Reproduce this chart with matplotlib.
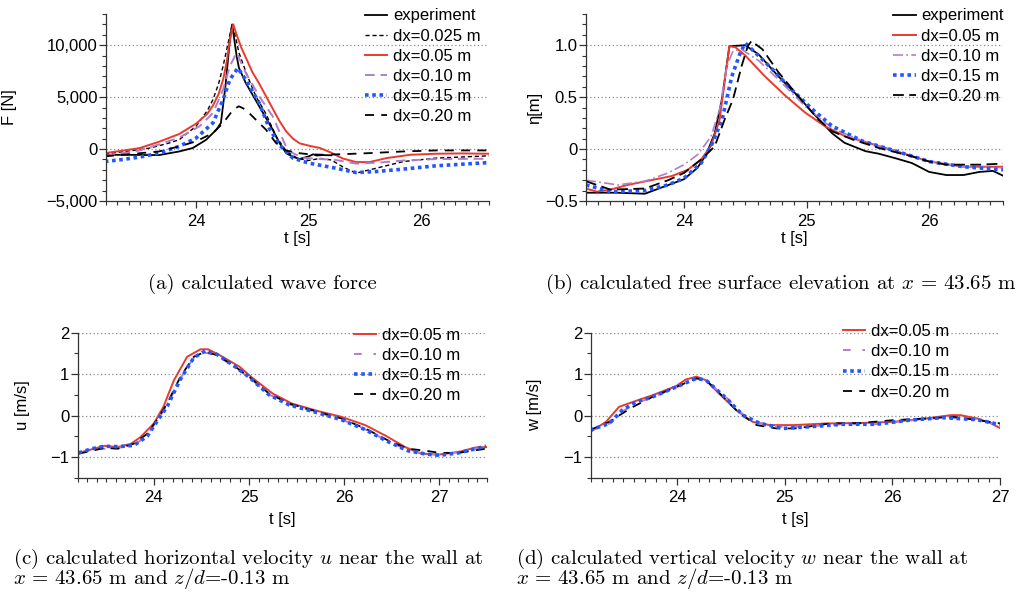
import matplotlib
matplotlib.use("Agg")
import matplotlib.pyplot as plt
from matplotlib.ticker import MultipleLocator, FixedLocator, FuncFormatter

plt.rcParams["font.family"] = ["Liberation Sans", "DejaVu Sans"]
plt.rcParams["mathtext.fontset"] = "cm"

# ---------------- (a) wave force ----------------
t_a_exp = [23.19, 23.45, 23.67, 23.85, 23.97, 24.09, 24.18, 24.22, 24.26, 24.30, 24.32,
           24.36, 24.38, 24.44, 24.56, 24.68, 24.74, 24.80, 24.86, 24.92, 25.00, 25.04,
           25.07, 25.12, 25.20]
f_exp = [-550, -560, -580, -230, 100, 900, 1870, 2510, 6000, 10500, 12000,
         8950, 7830, 6380, 4120, 1870, 580, -390, -750, -950, -700, -500,
         -620, -580, -600]

t_a_025 = [23.19, 23.40, 23.59, 23.75, 23.85, 24.00, 24.10, 24.15, 24.20, 24.24, 24.28,
           24.32, 24.35, 24.38, 24.45, 24.53, 24.62, 24.71, 24.80, 24.90, 25.00, 25.10,
           25.20, 25.30, 25.42, 25.50, 25.60, 25.84, 26.13, 26.60]
f_025 = [-450, -200, 100, 550, 900, 2200, 3700, 4770, 6300, 8000, 10000,
         12000, 10800, 9280, 7200, 5090, 3400, 1220, -200, -900, -1100, -900,
         -1050, -1700, -2320, -2100, -1840, -1200, -870, -650]

t_a_05 = [23.19, 23.35, 23.50, 23.67, 23.85, 24.00, 24.10, 24.15, 24.20, 24.24, 24.27,
          24.30, 24.33, 24.36, 24.40, 24.45, 24.50, 24.56, 24.62, 24.68, 24.74, 24.80,
          24.86, 24.92, 25.00, 25.10, 25.20, 25.30, 25.42, 25.54, 25.69, 25.90, 26.13,
          26.35, 26.60]
f_05 = [-390, -150, 100, 700, 1450, 2450, 3400, 4200, 5300, 6700, 8300,
        10500, 12000, 11000, 9800, 8600, 7400, 6300, 5100, 3900, 2700, 1700,
        1000, 550, 330, 100, -350, -900, -1250, -1250, -870, -550, -450,
        -420, -450]

t_a_10 = [23.19, 23.35, 23.50, 23.67, 23.85, 24.03, 24.15, 24.24, 24.30, 24.36, 24.44,
          24.56, 24.68, 24.80, 24.86, 24.95, 25.10, 25.24, 25.42, 25.63, 25.84, 26.13,
          26.60]
f_10 = [-650, -400, -130, 450, 1100, 2190, 3480, 5730, 7990, 9280, 7350,
        5090, 3150, 200, -400, -850, -950, -1050, -1400, -1300, -1100, -960,
        -930]

t_a_15 = [23.19, 23.35, 23.50, 23.67, 23.85, 24.00, 24.15, 24.24, 24.30, 24.37, 24.44,
          24.56, 24.65, 24.74, 24.80, 24.86, 25.00, 25.24, 25.42, 25.60, 25.84, 26.13,
          26.60]
f_15 = [-1200, -1000, -770, -390, 260, 1060, 2520, 4770, 6700, 7800, 6700,
        4450, 2000, 400, -250, -870, -1350, -1840, -2260, -2160, -1930, -1610,
        -1300]

t_a_20 = [23.19, 23.45, 23.67, 23.85, 24.00, 24.15, 24.24, 24.33, 24.38, 24.44, 24.53,
          24.62, 24.71, 24.80, 24.92, 25.00, 25.13, 25.33, 25.54, 25.84, 26.13, 26.60]
f_20 = [-700, -450, -230, 260, 740, 1550, 2510, 3800, 4120, 3800, 2830,
        1870, 580, -150, -400, -500, -550, -480, -390, -230, -130, -130]

# ---------------- (b) free surface elevation ----------------
t_b_exp = [23.20, 23.45, 23.68, 23.84, 24.00, 24.11, 24.18, 24.25, 24.31, 24.37, 24.50,
           24.61, 24.77, 24.93, 25.05, 25.21, 25.31, 25.48, 25.59, 25.73, 25.86, 26.00,
           26.14, 26.28, 26.41, 26.52, 26.61]
eta_exp = [-0.42, -0.42, -0.43, -0.36, -0.29, -0.18, -0.055, 0.15, 0.48, 0.99, 1.0,
           0.91, 0.70, 0.51, 0.35, 0.15, 0.06, -0.02, -0.045, -0.09, -0.135, -0.22,
           -0.25, -0.25, -0.22, -0.21, -0.26]

t_b_05 = [23.20, 23.29, 23.40, 23.54, 23.73, 23.90, 24.03, 24.14, 24.22, 24.29, 24.33,
          24.37, 24.42, 24.50, 24.66, 24.83, 24.99, 25.15, 25.32, 25.46, 25.73, 26.00,
          26.28, 26.61]
eta_05 = [-0.38, -0.41, -0.39, -0.345, -0.30, -0.26, -0.20, -0.10, 0.03, 0.28, 0.64,
          0.99, 0.98, 0.90, 0.70, 0.51, 0.35, 0.22, 0.12, 0.075, -0.02, -0.12,
          -0.17, -0.17]

t_b_10 = [23.20, 23.46, 23.68, 23.87, 24.00, 24.11, 24.22, 24.29, 24.35, 24.40, 24.47,
          24.61, 24.77, 24.99, 25.21, 25.46, 25.73, 26.00, 26.28, 26.61]
eta_10 = [-0.30, -0.345, -0.31, -0.23, -0.15, -0.055, 0.12, 0.38, 0.80, 0.945, 0.96,
          0.85, 0.67, 0.41, 0.20, 0.075, -0.02, -0.12, -0.17, -0.18]

t_b_15 = [23.20, 23.40, 23.68, 23.87, 24.00, 24.14, 24.22, 24.31, 24.39, 24.46, 24.50,
          24.58, 24.72, 24.88, 25.05, 25.21, 25.46, 25.73, 26.00, 26.28, 26.61]
eta_15 = [-0.345, -0.41, -0.40, -0.345, -0.28, -0.135, 0.025, 0.28, 0.70, 0.93, 1.02,
          0.93, 0.77, 0.57, 0.38, 0.22, 0.075, -0.02, -0.12, -0.17, -0.20]

t_b_20 = [23.20, 23.40, 23.68, 23.87, 24.00, 24.14, 24.25, 24.33, 24.40, 24.47, 24.52,
          24.55, 24.64, 24.77, 24.93, 25.10, 25.21, 25.38, 25.59, 25.86, 26.00, 26.14,
          26.41, 26.61]
eta_20 = [-0.31, -0.39, -0.38, -0.30, -0.23, -0.10, 0.025, 0.28, 0.48, 0.80, 0.99,
          1.04, 0.96, 0.74, 0.51, 0.28, 0.17, 0.09, 0.01, -0.07, -0.12, -0.15,
          -0.15, -0.14]

# ---------------- (c) horizontal velocity ----------------
t_c_05 = [23.21, 23.37, 23.48, 23.62, 23.76, 23.86, 24.00, 24.10, 24.21, 24.35, 24.49,
          24.57, 24.69, 24.90, 25.04, 25.25, 25.45, 25.73, 25.97, 26.22, 26.43, 26.64,
          26.81, 27.00, 27.20, 27.38, 27.49]
u_05 = [-0.90, -0.80, -0.73, -0.76, -0.68, -0.52, -0.19, 0.21, 0.85, 1.42, 1.60,
        1.60, 1.46, 1.18, 0.90, 0.53, 0.29, 0.105, -0.03, -0.23, -0.48, -0.76,
        -0.92, -0.94, -0.88, -0.77, -0.76]

t_c = [23.21, 23.35, 23.48, 23.62, 23.79, 23.93, 24.03, 24.14, 24.28, 24.42, 24.54,
       24.66, 24.83, 25.00, 25.21, 25.42, 25.70, 25.97, 26.22, 26.46, 26.67, 26.86,
       27.00, 27.20, 27.49]
u_10 = [-0.90, -0.82, -0.80, -0.78, -0.72, -0.48, -0.13, 0.25, 0.90, 1.40, 1.52,
        1.45, 1.20, 0.92, 0.51, 0.27, 0.09, -0.09, -0.33, -0.62, -0.84, -0.92,
        -0.95, -0.88, -0.75]
u_15 = [-0.90, -0.80, -0.74, -0.75, -0.72, -0.50, -0.15, 0.22, 0.88, 1.40, 1.56,
        1.48, 1.22, 0.93, 0.50, 0.26, 0.08, -0.10, -0.34, -0.63, -0.85, -0.93,
        -0.96, -0.90, -0.74]
u_20 = [-0.92, -0.85, -0.78, -0.80, -0.68, -0.44, -0.11, 0.29, 0.94, 1.42, 1.54,
        1.46, 1.22, 0.94, 0.53, 0.29, 0.105, -0.07, -0.31, -0.60, -0.80, -0.85,
        -0.90, -0.90, -0.80]

# ---------------- (d) vertical velocity ----------------
t_d_05 = [23.19, 23.34, 23.46, 23.59, 23.77, 23.99, 24.08, 24.18, 24.27, 24.39, 24.55,
          24.70, 24.86, 25.08, 25.39, 25.70, 26.01, 26.32, 26.54, 26.63, 26.79, 26.91,
          27.00]
w_05 = [-0.40, -0.15, 0.21, 0.33, 0.49, 0.71, 0.87, 0.94, 0.85, 0.53, 0.13,
        -0.15, -0.23, -0.23, -0.19, -0.18, -0.15, -0.07, 0.01, 0.01, -0.07, -0.18,
        -0.30]

t_d = [23.19, 23.37, 23.49, 23.62, 23.77, 23.99, 24.18, 24.27, 24.46, 24.61, 24.77,
       24.99, 25.23, 25.54, 25.85, 26.16, 26.47, 26.79, 27.00]
w_10 = [-0.37, -0.20, 0.10, 0.30, 0.44, 0.68, 0.89, 0.84, 0.43, 0.03, -0.18,
        -0.28, -0.26, -0.21, -0.21, -0.12, -0.05, -0.09, -0.24]
w_15 = [-0.35, -0.19, 0.13, 0.33, 0.45, 0.69, 0.90, 0.85, 0.41, 0.01, -0.19,
        -0.31, -0.27, -0.21, -0.21, -0.11, -0.05, -0.10, -0.22]

t_d_20 = [23.19, 23.37, 23.49, 23.59, 23.77, 23.99, 24.18, 24.27, 24.43, 24.58, 24.74,
          24.92, 25.11, 25.42, 25.70, 26.01, 26.32, 26.57, 26.79, 27.00]
w_20 = [-0.35, -0.15, 0.05, 0.21, 0.45, 0.69, 0.90, 0.85, 0.45, 0.05, -0.23,
        -0.31, -0.31, -0.19, -0.18, -0.11, -0.07, -0.03, -0.11, -0.19]

RED = "#ea3a2e"
PURPLE = "#b07ec8"
BLUE = "#2456ff"

st_exp = dict(color="black", lw=1.3, ls="-")
st_025 = dict(color="black", lw=1.0, ls=(0, (3, 2)))
st_05 = dict(color=RED, lw=1.4, ls="-")
st_10 = dict(color=PURPLE, lw=1.4, ls=(0, (5, 3)))
st_15 = dict(color=BLUE, lw=2.6, ls=(0, (1.0, 1.0)))
st_20 = dict(color="black", lw=1.3, ls=(0, (5, 4)))

TICK_FS = 12


def style_axes(ax, xlim, ylim, yticks, ygrid, xmajor, xminor, yminor, xlabelpad):
    ax.set_xlim(*xlim)
    ax.set_ylim(*ylim)
    for s in ("top", "right"):
        ax.spines[s].set_visible(False)
    for s in ("left", "bottom"):
        ax.spines[s].set_color("#333333")
        ax.spines[s].set_linewidth(0.9)
    ax.xaxis.set_major_locator(FixedLocator(xmajor))
    ax.xaxis.set_minor_locator(MultipleLocator(xminor))
    ax.yaxis.set_major_locator(FixedLocator(yticks))
    ax.yaxis.set_minor_locator(MultipleLocator(yminor))
    ax.tick_params(which="major", direction="out", length=5, width=0.9,
                   color="#333333", labelsize=TICK_FS)
    ax.tick_params(axis="x", which="major", pad=4)
    ax.tick_params(axis="y", which="major", pad=1)
    ax.tick_params(which="minor", direction="out", length=3, width=0.8,
                   color="#333333")
    for g in ygrid:
        ax.axhline(g, color="#888888", lw=0.9, ls=(0, (1, 2)), zorder=0)
    ax.set_xlabel("t [s]", fontsize=TICK_FS, labelpad=xlabelpad)


def minus(s):
    return s.replace("-", "\u2212")


fig = plt.figure(figsize=(10.32, 5.97), dpi=100)

# (a)
ax_a = fig.add_axes([0.1027, 0.6633, 0.3711, 0.3132])
ax_a.plot(t_a_exp, f_exp, label="experiment", **st_exp)
ax_a.plot(t_a_025, f_025, label="dx=0.025 m", **st_025)
ax_a.plot(t_a_05, f_05, label="dx=0.05 m", **st_05)
ax_a.plot(t_a_10, f_10, label="dx=0.10 m", **st_10)
ax_a.plot(t_a_15, f_15, label="dx=0.15 m", **st_15)
ax_a.plot(t_a_20, f_20, label="dx=0.20 m", **st_20)
style_axes(ax_a, (23.2, 26.6), (-5000, 13000), [-5000, 0, 5000, 10000],
           [0, 5000, 10000], [24, 25, 26], 0.1, 1000, 2)
ax_a.yaxis.set_major_formatter(FuncFormatter(lambda v, p: minus(f"{v:,.0f}")))
ax_a.set_ylabel("F [N]", fontsize=TICK_FS)
ax_a.yaxis.set_label_coords(-0.232, 0.5)

# (b)
ax_b = fig.add_axes([0.5678, 0.6633, 0.4038, 0.3132])
ax_b.plot(t_b_exp, eta_exp, label="experiment", **st_exp)
ax_b.plot(t_b_05, eta_05, label="dx=0.05 m", **st_05)
ax_b.plot(t_b_10, eta_10, label="dx=0.10 m",
          **dict(st_10, ls=(0, (6, 2, 1, 2)), lw=1.2))
ax_b.plot(t_b_15, eta_15, label="dx=0.15 m", **st_15)
ax_b.plot(t_b_20, eta_20, label="dx=0.20 m", **dict(st_20, ls=(0, (6, 3))))
style_axes(ax_b, (23.2, 26.6), (-0.5, 1.3), [-0.5, 0, 0.5, 1.0],
           [0, 0.5, 1.0], [24, 25, 26], 0.1, 0.1, 2)
ax_b.yaxis.set_major_formatter(
    FuncFormatter(lambda v, p: "0" if abs(v) < 1e-9 else minus(f"{v:.1f}")))
ax_b.set_ylabel("\u03b7[m]", fontsize=TICK_FS)
ax_b.yaxis.set_label_coords(-0.105, 0.5)

# (c)
ax_c = fig.add_axes([0.0753, 0.1998, 0.3966, 0.2429])
ax_c.plot(t_c_05, u_05, label="dx=0.05 m", **st_05)
ax_c.plot(t_c, u_10, label="dx=0.10 m", **dict(st_10, ls=(0, (4, 6))))
ax_c.plot(t_c, u_20, label="dx=0.20 m", **st_20)
ax_c.plot(t_c, u_15, label="dx=0.15 m", **st_15)
style_axes(ax_c, (23.2, 27.5), (-1.5, 2.0), [-1, 0, 1, 2],
           [-1, 0, 1, 2], [24, 25, 26, 27], 0.1, 0.5, 5)
ax_c.yaxis.set_major_formatter(FuncFormatter(lambda v, p: minus(f"{v:.0f}")))
ax_c.set_ylabel("u [m/s]", fontsize=TICK_FS)
ax_c.yaxis.set_label_coords(-0.117, 0.5)

# (d)
ax_d = fig.add_axes([0.5727, 0.1998, 0.3963, 0.2429])
ax_d.plot(t_d_05, w_05, label="dx=0.05 m", **st_05)
ax_d.plot(t_d, w_10, label="dx=0.10 m", **dict(st_10, ls=(0, (4, 6))))
ax_d.plot(t_d_20, w_20, label="dx=0.20 m", **st_20)
ax_d.plot(t_d, w_15, label="dx=0.15 m", **st_15)
style_axes(ax_d, (23.2, 27.0), (-1.5, 2.0), [-1, 0, 1, 2],
           [-1, 0, 1, 2], [24, 25, 26, 27], 0.1, 0.5, 5)
ax_d.yaxis.set_major_formatter(FuncFormatter(lambda v, p: minus(f"{v:.0f}")))
ax_d.set_ylabel("w [m/s]", fontsize=TICK_FS)
ax_d.yaxis.set_label_coords(-0.120, 0.5)


def add_legend(ax, x, y, order=None):
    h, l = ax.get_legend_handles_labels()
    if order is not None:
        h = [h[l.index(k)] for k in order]
        l = list(order)
    ax.legend(h, l, loc="upper left", bbox_to_anchor=(x, y), frameon=False,
              fontsize=TICK_FS, handlelength=1.35, handletextpad=0.35,
              labelspacing=0.31, borderpad=0, borderaxespad=0)


add_legend(ax_a, 0.676, 1.03)
add_legend(ax_b, 0.737, 1.03)
order_cd = ["dx=0.05 m", "dx=0.10 m", "dx=0.15 m", "dx=0.20 m"]
add_legend(ax_c, 0.675, 1.035, order_cd)
add_legend(ax_d, 0.616, 1.06, order_cd)

# captions
CAP = dict(fontfamily="cmr10", fontsize=15, color="black")
fig.text(0.254, 1 - 284 / 597, "(a) calculated wave force", ha="center", va="center", **CAP)
fig.text(0.757, 1 - 284 / 597, r"(b) calculated free surface elevation at $x\,=\,43.65$ m",
         ha="center", va="center", **CAP)
fig.text(13 / 1032, 1 - 547 / 597,
         "(c) calculated horizontal velocity $u$ near the wall at\n"
         r"$x\,=\,43.65$ m and $z/d$=-0.13 m",
         ha="left", va="top", multialignment="left", linespacing=0.74, **CAP)
fig.text(516 / 1032, 1 - 547 / 597,
         "(d) calculated vertical velocity $w$ near the wall at\n"
         r"$x\,=\,43.65$ m and $z/d$=-0.13 m",
         ha="left", va="top", multialignment="left", linespacing=0.74, **CAP)

fig.savefig("out.png", dpi=100)
